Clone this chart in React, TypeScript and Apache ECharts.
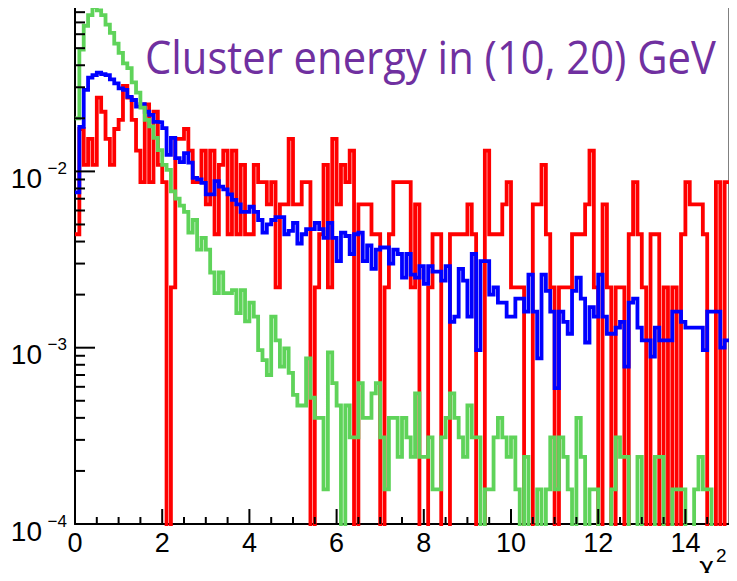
import { useEffect, useRef } from "react";
import * as echarts from "echarts";

// ---- axis ranges and ticks ----
const binWidth = 0.1;
const xMin = 0;
const xMax = 15;
const yMin = 1e-4;
const yMax = 0.0856;
const xLabelStep = 2;
const xMajorTicks = [0, 2, 4, 6, 8, 10, 12, 14];
const xMinorTicks = [0.5, 1, 1.5, 2.5, 3, 3.5, 4.5, 5, 5.5, 6.5, 7, 7.5, 8.5, 9, 9.5, 10.5, 11, 11.5, 12.5, 13, 13.5, 14.5];
const yMajorTicks = [1e-4, 1e-3, 1e-2];
const yMajorExponents = ["−4", "−3", "−2"];
const yMinorTicks = [
  2e-4, 3e-4, 4e-4, 5e-4, 6e-4, 7e-4, 8e-4, 9e-4,
  2e-3, 3e-3, 4e-3, 5e-3, 6e-3, 7e-3, 8e-3, 9e-3,
  2e-2, 3e-2, 4e-2, 5e-2, 6e-2, 7e-2, 8e-2,
];
const titleText = "Cluster energy in (10, 20) GeV";
const xAxisTitle = "χ";
const xAxisTitleSup = "2";

// ---- histogram contents (150 bins of width 0.1 from 0 to 15) ----
const redValues = [
  0.0044, 0.0174, 0.0109, 0.0153, 0.0109, 0.0262, 0.0218, 0.0153, 0.0109, 0.0174,
  0.0196, 0.0305, 0.0262, 0.0196, 0.0131, 0.0087, 0.0240, 0.0087, 0.0218, 0.0109,
  0.0087, 0, 0.0022, 0.0153, 0.0153, 0.0174, 0.0131, 0.0087, 0.0087, 0.0131,
  0.0065, 0.0131, 0.0044, 0.0109, 0.0131, 0.0044, 0.0131, 0.0044, 0.0109, 0.0044,
  0.0044, 0.0109, 0.0087, 0.0087, 0.0065, 0.0087, 0.0022, 0.0065, 0.0065, 0.0153,
  0.0065, 0.0065, 0.0087, 0.0087, 0, 0.0022, 0.0044, 0.0109, 0.0022, 0.0153,
  0.0065, 0.0109, 0.0087, 0.0131, 0, 0.0065, 0.0065, 0.0065, 0.0044, 0.0044,
  0, 0.0022, 0.0044, 0.0087, 0.0087, 0.0087, 0.0087, 0.0022, 0.0065, 0,
  0, 0.0022, 0.0044, 0.0044, 0, 0, 0.0044, 0.0044, 0.0044, 0.0044,
  0.0065, 0.0044, 0, 0, 0.0131, 0.0044, 0.0044, 0.0044, 0.0065, 0.0087,
  0.0022, 0.0022, 0.0022, 0, 0, 0.0065, 0.0065, 0.0109, 0.0044, 0.0022,
  0, 0.0022, 0.0022, 0.0022, 0.0044, 0.0044, 0.0044, 0.0065, 0.0131, 0.0022,
  0, 0.0065, 0.0022, 0, 0.0022, 0.0022, 0, 0.0044, 0.0087, 0.0044,
  0.0022, 0, 0.0044, 0.0044, 0, 0.0022, 0, 0.0022, 0, 0.0044,
  0.0087, 0.0065, 0.0065, 0.0065, 0.0044, 0, 0, 0.0087, 0, 0.0087,
];

const blueValues = [
  0.0076, 0.0179, 0.029, 0.034, 0.0352, 0.0363, 0.0356, 0.0352, 0.0333, 0.0316,
  0.0296, 0.029, 0.0265, 0.0254, 0.0233, 0.0241, 0.0218, 0.0209, 0.0191, 0.019,
  0.0176, 0.0124, 0.0155, 0.0119, 0.0113, 0.0127, 0.0112, 0.0092, 0.009, 0.0086,
  0.0074, 0.0074, 0.0088, 0.0082, 0.0079, 0.0074, 0.0069, 0.0065, 0.0059, 0.0059,
  0.0063, 0.0059, 0.0053, 0.0045, 0.005, 0.0053, 0.0055, 0.0055, 0.0044, 0.0046,
  0.0051, 0.0039, 0.0044, 0.0047, 0.0047, 0.0051, 0.0047, 0.0042, 0.0051, 0.0042,
  0.0031, 0.0045, 0.0043, 0.0034, 0.0044, 0.0045, 0.0031, 0.0038, 0.0028, 0.0036,
  0.0037, 0.0037, 0.003, 0.0036, 0.0034, 0.0025, 0.0034, 0.0026, 0.0025, 0.0029,
  0.0023, 0.0029, 0.0027, 0.0027, 0.0024, 0.0029, 0.0014, 0.0015, 0.0028, 0.0024,
  0.0015, 0.0034, 0.00097, 0.0031, 0.0031, 0.002, 0.0022, 0.0018, 0.0018, 0.0015,
  0.0015, 0.0019, 0.0019, 0.0016, 0.0026, 0.0016, 0.00087, 0.0026, 0.0021, 0.0016,
  0.00059, 0.0016, 0.0014, 0.0012, 0.0021, 0.0025, 0.0019, 0.00107, 0.0017, 0.0015,
  0.0026, 0.0015, 0.0012, 0.0012, 0.0013, 0.0014, 0.00078, 0.0018, 0.0019, 0.0013,
  0.0011, 0.0011, 0.00089, 0.0013, 0.0011, 0.0011, 0.0011, 0.0016, 0.0016, 0.0014,
  0.0013, 0.0013, 0.0013, 0.0013, 0.00097, 0.0016, 0.0016, 0.0016, 0.001, 0.0011,
];

const greenValues = [
  0.02, 0.049, 0.067, 0.077, 0.0855, 0.082, 0.077, 0.068, 0.061, 0.053,
  0.047, 0.041, 0.0385, 0.032, 0.028, 0.023, 0.0196, 0.018, 0.0155, 0.0132,
  0.0109, 0.0102, 0.0077, 0.007, 0.0064, 0.0059, 0.0045, 0.0053, 0.0036, 0.0042,
  0.0036, 0.00267, 0.00204, 0.00267, 0.00204, 0.00204, 0.00212, 0.00157, 0.00212, 0.00141,
  0.0018, 0.0015, 0.00097, 0.00085, 0.0007, 0.0015, 0.0011, 0.00078, 0.00099, 0.00072,
  0.00054, 0.00047, 0.00047, 0.00087, 0.00052, 0.0004, 0.0004, 0.000157, 0.00094, 0.00063,
  0.00047, 0, 0.00047, 0.00031, 0.00031, 0.00063, 0.0004, 0.0004, 0.00055, 0.00063,
  0.00031, 0.000157, 0.0004, 0.0004, 0.00024, 0.0004, 0.00031, 0.00024, 0.00055, 0.00024,
  0.00024, 0.00031, 0.000157, 0.000157, 0.00031, 0.0004, 0.00055, 0.0004, 0.00031, 0.00024,
  0.00047, 0.00031, 0.00031, 0, 0.000157, 0.000157, 0.00031, 0.0004, 0.00031, 0.00024,
  0.00031, 0.000157, 0, 0.00024, 0, 0, 0.000157, 0, 0.000157, 0.00031,
  0.000157, 0.00031, 0.00024, 0.000157, 0, 0.0004, 0.00024, 0, 0.000157, 0.000157,
  0, 0, 0, 0.000157, 0.00031, 0.00024, 0.00024, 0, 0, 0.00024,
  0, 0, 0, 0.00024, 0.00024, 0, 0, 0.000157, 0.000157, 0.000157,
  0, 0, 0.000157, 0.00024, 0.000157, 0.000157, 0, 0, 0, 0,
];

const seriesColors = { red: "#FF0000", blue: "#0000FF", green: "#5FD35A" };

// empty bins are drawn down to the floor of the log axis (clipped by the grid)
function toSteps(values: number[]) {
  const pts: [number, number][] = values.map((v, i) => [
    +(xMin + i * binWidth).toFixed(2),
    v > 0 ? v : 1e-8,
  ]);
  const last = values[values.length - 1];
  pts.push([xMax, last > 0 ? last : 1e-8]);
  return pts;
}

const GRID = { left: 75, right: 8, top: 7, bottom: 57 };
const LABEL_FONT = "Liberation Sans";

export default function App() {
  const ref = useRef<HTMLDivElement>(null);

  useEffect(() => {
    if (!ref.current) return;
    const chart = echarts.init(ref.current, undefined, { renderer: "svg" });

    // measure title width to condense it like the original font
    const titleFontSize = 46;
    const titleFont = `${titleFontSize}px "Open Sans"`;
    let titleScale = 1;
    try {
      const ctx = document.createElement("canvas").getContext("2d");
      if (ctx) {
        ctx.font = titleFont;
        const w = ctx.measureText(titleText).width;
        if (w > 0) titleScale = 571 / w;
      }
    } catch (e) {
      titleScale = 1;
    }

    // [x, y, kind, length]; kind 0 = x tick, 1 = y tick
    const tickData: any[][] = [
      ...xMajorTicks.map((v) => [v, yMin, 0, 15]),
      ...xMinorTicks.map((v) => [v, yMin, 0, 7]),
      ...yMajorTicks.map((v) => [xMin, v, 1, 20]),
      ...yMinorTicks.map((v) => [xMin, v, 1, 10]),
    ];
    const labelData: any[][] = yMajorTicks.map((v, i) => [xMin, v, i]);

    const lineSeries = (name: string, values: number[], color: string, z: number) => ({
      name,
      type: "line",
      step: "end",
      data: toSteps(values),
      showSymbol: false,
      symbol: "none",
      clip: true,
      z,
      lineStyle: { color, width: 3.8, join: "miter", cap: "butt" },
      emphasis: { disabled: true },
    });

    chart.setOption({
      animation: false,
      backgroundColor: "#ffffff",
      grid: {
        left: GRID.left,
        right: GRID.right,
        top: GRID.top,
        bottom: GRID.bottom,
        show: true,
        borderColor: "#000",
        borderWidth: 1,
        backgroundColor: "transparent",
      },
      xAxis: {
        type: "value",
        min: xMin,
        max: xMax,
        interval: xLabelStep,
        axisLine: { show: true, lineStyle: { color: "#000", width: 2 } },
        axisTick: { show: false },
        splitLine: { show: false },
        axisLabel: {
          color: "#000",
          fontSize: 27,
          fontFamily: LABEL_FONT,
          margin: 5,
          showMaxLabel: false,
        },
      },
      yAxis: {
        type: "log",
        logBase: 10,
        min: yMin,
        max: yMax,
        axisLine: { show: true, lineStyle: { color: "#000", width: 2 } },
        axisTick: { show: false },
        splitLine: { show: false },
        minorSplitLine: { show: false },
        axisLabel: { show: false },
      },
      graphic: [
        {
          type: "text",
          x: 145,
          y: 56,
          scaleX: titleScale,
          z: 100,
          style: {
            text: titleText,
            fill: "#7030A0",
            font: titleFont,
            align: "left",
            verticalAlign: "middle",
          },
        },
        {
          type: "text",
          x: 714,
          y: 580,
          z: 100,
          style: {
            text: xAxisTitle,
            fill: "#000",
            font: `28px "${LABEL_FONT}"`,
            align: "right",
            verticalAlign: "bottom",
          },
        },
        {
          type: "text",
          x: 716,
          y: 555,
          z: 100,
          style: {
            text: xAxisTitleSup,
            fill: "#000",
            font: `19px "${LABEL_FONT}"`,
            align: "left",
            verticalAlign: "middle",
          },
        },
      ],
      series: [
        lineSeries("red", redValues, seriesColors.red, 2),
        lineSeries("blue", blueValues, seriesColors.blue, 3),
        lineSeries("green", greenValues, seriesColors.green, 4),
        {
          type: "custom",
          name: "ticks",
          z: 10,
          silent: true,
          clip: false,
          encode: { x: 0, y: 1 },
          data: tickData,
          renderItem: (_params: any, api: any) => {
            const p = api.coord([api.value(0), api.value(1)]);
            const vertical = api.value(2) === 0;
            const len = api.value(3);
            return {
              type: "line",
              shape: vertical
                ? { x1: p[0], y1: p[1], x2: p[0], y2: p[1] - len }
                : { x1: p[0], y1: p[1], x2: p[0] + len, y2: p[1] },
              style: { stroke: "#000", lineWidth: 2 },
            };
          },
        },
        {
          type: "custom",
          name: "ylabels",
          z: 10,
          silent: true,
          clip: false,
          encode: { x: 0, y: 1 },
          data: labelData,
          renderItem: (_params: any, api: any) => {
            const p = api.coord([api.value(0), api.value(1)]);
            const exp = yMajorExponents[api.value(2)];
            const right = p[0] - 8;
            return {
              type: "group",
              children: [
                {
                  type: "text",
                  style: {
                    text: exp,
                    x: right,
                    y: p[1] - 3,
                    align: "right",
                    verticalAlign: "middle",
                    fill: "#000",
                    font: `17px "${LABEL_FONT}"`,
                  },
                },
                {
                  type: "text",
                  style: {
                    text: "10",
                    x: right - 25,
                    y: p[1] + 7,
                    align: "right",
                    verticalAlign: "middle",
                    fill: "#000",
                    font: `28px "${LABEL_FONT}"`,
                  },
                },
              ],
            };
          },
        },
      ],
    });

    return () => chart.dispose();
  }, []);

  return <div ref={ref} style={{ width: 737, height: 581, margin: -8 }} />;
}
